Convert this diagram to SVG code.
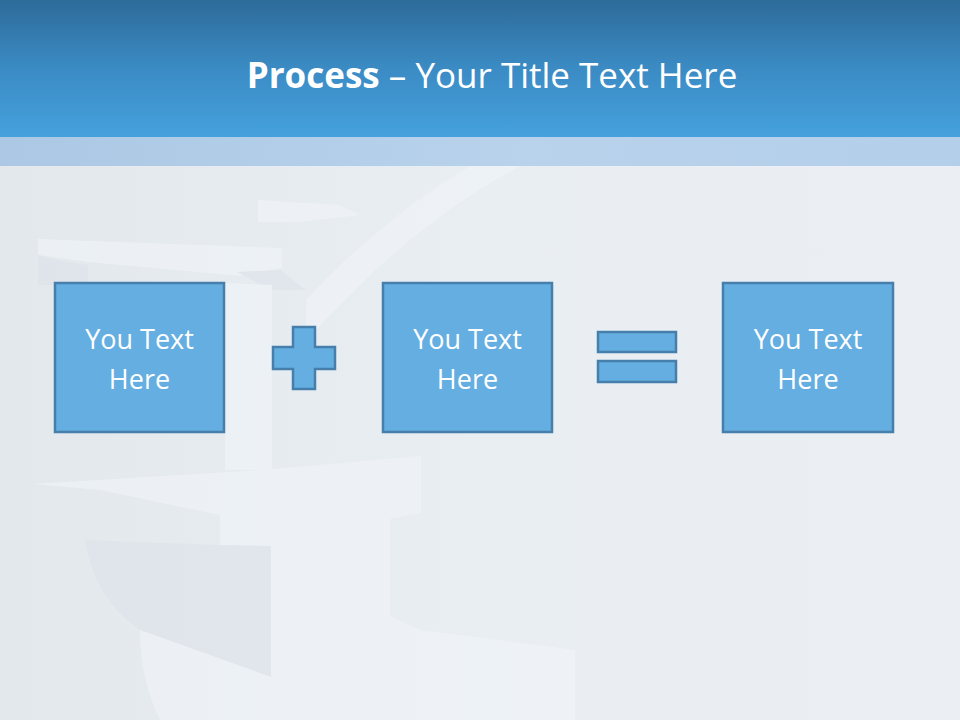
<svg xmlns="http://www.w3.org/2000/svg" width="960" height="720" viewBox="0 0 960 720">
  <defs>
    <linearGradient id="hdr" x1="0" y1="0" x2="0" y2="1">
      <stop offset="0" stop-color="#2d6b9a"/>
      <stop offset="0.5" stop-color="#3b8bc4"/>
      <stop offset="1" stop-color="#45a1dd"/>
    </linearGradient>
    <linearGradient id="bg" x1="0" y1="0" x2="1" y2="0">
      <stop offset="0" stop-color="#e3e8ed"/>
      <stop offset="0.5" stop-color="#e9eef3"/>
      <stop offset="1" stop-color="#ebeff4"/>
    </linearGradient>
    <linearGradient id="band" x1="0" y1="0" x2="1" y2="0">
      <stop offset="0" stop-color="#a9c6e3"/>
      <stop offset="0.55" stop-color="#b6d1ec"/>
      <stop offset="1" stop-color="#b1cde9"/>
    </linearGradient>
    <style>
      .box { fill: #64aee1; stroke: #467fab; stroke-width: 2.5; }
      .op { fill: #64aee1; stroke: #467fab; stroke-width: 2.5; }
      .lbl { font-family: "Open Sans", "Liberation Sans", sans-serif; font-size: 27px; fill: #ffffff; text-anchor: middle; }
      .title { font-family: "Open Sans", "Liberation Sans", sans-serif; font-size: 35px; fill: #ffffff; text-anchor: middle; }
      .lite { fill: #f1f5f9; }
      .mid { fill: #e9eef3; }
      .dark { fill: #dde3e9; }
    </style>
  </defs>

  <!-- background scene (faint stairs) -->
  <rect x="0" y="0" width="960" height="720" fill="url(#bg)"/>
  <g id="stairs" opacity="0.6">
    <path class="lite" d="M520 166 Q430 215 355 290 Q325 320 306 341 L306 300 Q380 220 470 166 Z"/>
    <path class="lite" d="M38 239 L282 248 L282 268 L240 276 L88 262 L38 255 Z"/>
    <path class="dark" d="M38 255 Q60 262 88 265 L88 285 L38 285 Z"/>
    <path class="lite" d="M258 200 L340 205 L360 215 L300 222 L258 222 Z"/>
    <path class="dark" d="M237 272 L280 270 L306 290 L270 290 Z"/>
    <path class="lite" d="M32 484 L260 470 L421 456 L421 484 L390 519 L220 515 L100 490 Z"/>
    <path class="lite" d="M220 515 L421 484 L421 513 L390 519 L271 546 L220 545 Z"/>
    <path class="lite" d="M271 546 L390 519 L390 616 L271 677 Z"/>
    <path class="dark" d="M85 540 L220 545 L271 546 L271 677 L140 630 Q95 600 85 540 Z"/>
    <path class="lite" d="M140 630 L271 677 L390 616 L420 630 L575 650 L575 720 L160 720 Q140 680 140 630 Z"/>
    <path class="lite" d="M225 283 L272 285 L272 470 L225 470 Z"/>
  </g>

  <!-- header -->
  <rect x="0" y="0" width="960" height="137" fill="url(#hdr)"/>
  <rect x="0" y="137" width="960" height="29" fill="url(#band)" opacity="0.95"/>
  <text class="title" x="492" y="88"><tspan font-weight="bold">Process</tspan> – Your Title Text Here</text>

  <!-- nodes -->
  <g id="box1">
    <rect class="box" x="55" y="283" width="169" height="149"/>
    <text class="lbl" x="139.5" y="349">You Text</text>
    <text class="lbl" x="139.5" y="389">Here</text>
  </g>
  <g id="plus">
    <path class="op" d="M293 327 H315 V347 H335 V369 H315 V389 H293 V369 H273 V347 H293 Z"/>
  </g>
  <g id="box2">
    <rect class="box" x="383" y="283" width="169" height="149"/>
    <text class="lbl" x="467.5" y="349">You Text</text>
    <text class="lbl" x="467.5" y="389">Here</text>
  </g>
  <g id="equals">
    <rect class="op" x="598" y="332" width="78" height="20"/>
    <rect class="op" x="598" y="361" width="78" height="21"/>
  </g>
  <g id="box3">
    <rect class="box" x="723" y="283" width="170" height="149"/>
    <text class="lbl" x="808" y="349">You Text</text>
    <text class="lbl" x="808" y="389">Here</text>
  </g>
  <g id="connectors"/>
</svg>
